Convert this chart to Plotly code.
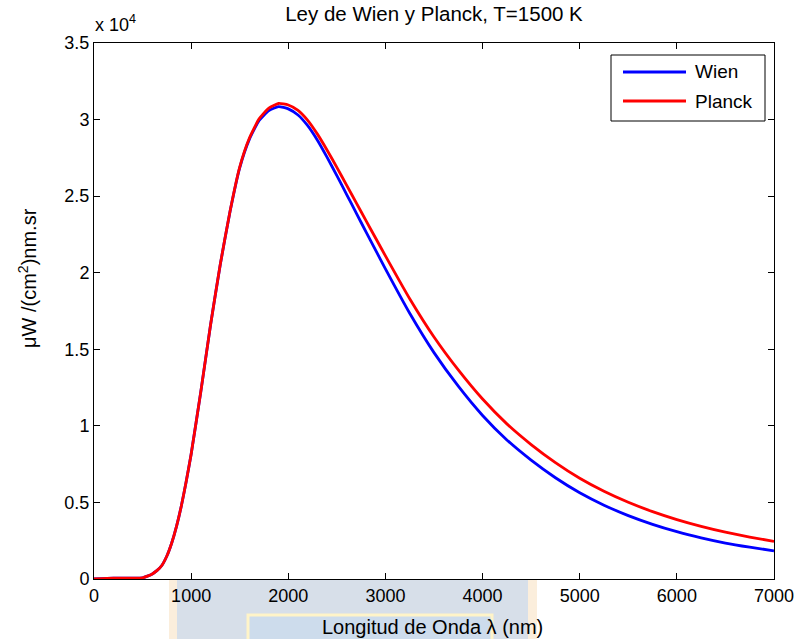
import plotly.graph_objects as go

# ---- data ----
wavelength_nm = [0, 200, 300, 400, 500, 550, 600, 650, 700, 750, 800, 850, 900, 950,
                 1000, 1100, 1200, 1300, 1400, 1500, 1600, 1700, 1800, 1900, 2000,
                 2100, 2200, 2300, 2400, 2500, 2600, 2700, 2800, 2900, 3000,
                 3250, 3500, 3750, 4000, 4250, 4500, 4750, 5000, 5250,
                 5500, 5750, 6000, 6250, 6500, 6750, 7000]

planck = [0, 60, 60, 60, 80, 190, 330, 560, 900, 1500, 2350, 3450, 4800, 6400,
          8150, 12250, 16600, 20550, 24000, 26900, 28800, 30050, 30750, 31050, 30950,
          30600, 29950, 29050, 28000, 26880, 25720, 24560, 23400, 22250, 21100,
          18300, 15800, 13650, 11750, 10130, 8780, 7600, 6580, 5730,
          5010, 4400, 3880, 3440, 3060, 2740, 2450]

wien = [0, 60, 60, 60, 80, 190, 330, 560, 900, 1500, 2350, 3450, 4800, 6400,
        8150, 12250, 16600, 20540, 23980, 26850, 28720, 29940, 30590, 30850, 30700,
        30300, 29600, 28650, 27530, 26340, 25120, 23890, 22670, 21460, 20250,
        17350, 14780, 12590, 10680, 9080, 7760, 6610, 5630, 4820,
        4140, 3570, 3090, 2690, 2350, 2080, 1840]

x_ticks = [0, 1000, 2000, 3000, 4000, 5000, 6000, 7000]
y_ticks = [0, 5000, 10000, 15000, 20000, 25000, 30000, 35000]
y_tick_labels = ["0", "0.5", "1", "1.5", "2", "2.5", "3", "3.5"]

FONT = "Liberation Sans, Arial, sans-serif"

fig = go.Figure()
fig.add_trace(go.Scatter(x=wavelength_nm, y=wien, mode="lines", name="Wien",
                         line=dict(color="#0000ff", width=2.8, shape="spline", smoothing=0.5),
                         showlegend=False))
fig.add_trace(go.Scatter(x=wavelength_nm, y=planck, mode="lines", name="Planck",
                         line=dict(color="#ff0000", width=2.8, shape="spline", smoothing=0.5),
                         showlegend=False))

W, H = 798, 639
L, R, T, B = 94, 774, 43, 579


def px(xp):
    return (xp - L) / (R - L)


def py(yp):
    return (B - yp) / (B - T)


shapes = []
# watermark-like background image below the axes
shapes.append(dict(type="rect", xref="paper", yref="paper", layer="below",
                   x0=px(169), x1=px(537), y0=py(645), y1=py(580),
                   fillcolor="#fbeedc", line=dict(width=0)))
shapes.append(dict(type="rect", xref="paper", yref="paper", layer="below",
                   x0=px(177), x1=px(528), y0=py(645), y1=py(580),
                   fillcolor="#d7dfe9", line=dict(width=0)))
shapes.append(dict(type="rect", xref="paper", yref="paper", layer="below",
                   x0=px(248), x1=px(492), y0=py(645), y1=py(615),
                   fillcolor="#cddcec", line=dict(color="#fff4c8", width=3)))

# legend box (MATLAB style)
shapes.append(dict(type="rect", xref="paper", yref="paper",
                   x0=px(611), x1=px(765), y0=py(121), y1=py(55),
                   fillcolor="white", line=dict(color="black", width=1)))
shapes.append(dict(type="line", xref="paper", yref="paper",
                   x0=px(623), x1=px(686), y0=py(72), y1=py(72),
                   line=dict(color="#0000ff", width=2.8)))
shapes.append(dict(type="line", xref="paper", yref="paper",
                   x0=px(623), x1=px(686), y0=py(101), y1=py(101),
                   line=dict(color="#ff0000", width=2.8)))

annotations = [
    dict(text="Wien", xref="paper", yref="paper", x=px(693), y=py(72),
         xanchor="left", yanchor="middle", showarrow=False,
         font=dict(family=FONT, size=19, color="black")),
    dict(text="Planck", xref="paper", yref="paper", x=px(693), y=py(101),
         xanchor="left", yanchor="middle", showarrow=False,
         font=dict(family=FONT, size=19, color="black")),
    dict(text="x 10<sup>4</sup>", xref="paper", yref="paper", x=px(93), y=py(37),
         xanchor="left", yanchor="bottom", showarrow=False,
         font=dict(family=FONT, size=18, color="black")),
    dict(text="Longitud de Onda λ (nm)", xref="paper", yref="paper", x=px(432), y=py(627),
         xanchor="center", yanchor="middle", showarrow=False,
         font=dict(family=FONT, size=20, color="black")),
    dict(text="μW /(cm<sup>2</sup>)nm.sr", xref="paper", yref="paper", x=px(27), y=py(278),
         xanchor="center", yanchor="middle", showarrow=False, textangle=-90,
         font=dict(family=FONT, size=20, color="black")),
]

fig.update_layout(
    width=W, height=H,
    margin=dict(l=L, r=W - R, t=T, b=H - B, pad=0, autoexpand=False),
    paper_bgcolor="white", plot_bgcolor="white",
    title=dict(text="Ley de Wien y Planck, T=1500 K", x=px(434), xref="paper",
               xanchor="center", y=1 - 14 / H, yanchor="middle",
               font=dict(family=FONT, size=20.5, color="black")),
    font=dict(family=FONT, size=18, color="black"),
    shapes=shapes,
    annotations=annotations,
    showlegend=False,
)

fig.update_xaxes(range=[0, 7000], tickvals=x_ticks, ticks="inside", ticklen=6,
                 tickcolor="black", showline=True, linecolor="black", linewidth=1,
                 mirror="ticks", showgrid=False, zeroline=False, automargin=False,
                 tickfont=dict(family=FONT, size=18))
fig.update_yaxes(range=[0, 35000], tickvals=y_ticks, ticktext=y_tick_labels,
                 ticks="inside", ticklen=6, tickcolor="black", showline=True,
                 linecolor="black", linewidth=1, mirror="ticks", showgrid=False,
                 zeroline=False, automargin=False, tickfont=dict(family=FONT, size=18))

fig.write_html(
    "out.html",
    config={"displayModeBar": False},
    post_script="document.body.style.margin='0';document.body.style.overflow='hidden';",
)
